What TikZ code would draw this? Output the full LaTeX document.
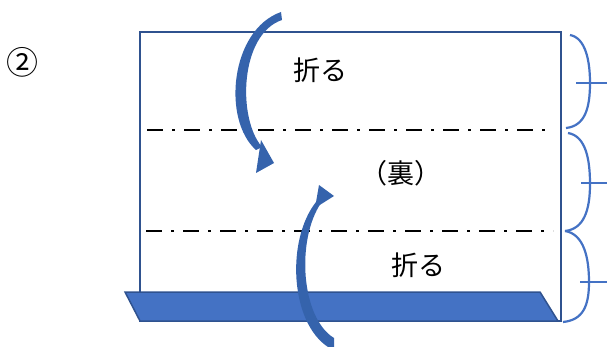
\documentclass[tikz,border=0pt]{standalone}
\usepackage{fontspec}
\setmainfont{Noto Sans CJK JP}
\usepackage{tikz}
\usetikzlibrary{positioning}
\definecolor{darkblue}{HTML}{2F528F}
\definecolor{midblue}{HTML}{4472C4}
\definecolor{arrowblue}{HTML}{3563AC}

\begin{document}
\begin{tikzpicture}[x=1pt, y=-1pt,
  label/.style={font=\fontsize{27}{27}\selectfont, inner sep=0pt},
  foldline/.style={line width=2.2pt, dash pattern=on 16pt off 9pt on 3pt off 9pt},
  brace/.style={midblue, line width=2.2pt},
  paper/.style={darkblue, line width=2pt}]
\useasboundingbox (0,0) rectangle (607,347);

% paper
\draw[paper] (140,32) rectangle (561,321);
\coordinate (fold1l) at (147,130);
\coordinate (fold1r) at (553,130);
\coordinate (fold2l) at (146,231);
\coordinate (fold2r) at (553,231);
\draw[foldline] (fold1l) -- (fold1r);
\draw[foldline] (fold2l) -- (fold2r);

% band at the bottom
\filldraw[fill=midblue, draw=darkblue, line width=1.5pt]
  (125,292) -- (540,292) -- (558,321) -- (140,321) -- cycle;

% texts
\node[label, font=\fontsize{32}{32}\selectfont] (step) at (22,62) {②};
\node[label] (top) at (320,70) {折る};
\node[label] (back) at (401,173) {（裏）};
\node[label] (bottom) at (418,265) {折る};

% upper arrow
\fill[arrowblue] (281,12) .. controls (230,30) and (222,120) .. (256,150)
  -- (262,147) .. controls (237,118) and (240,34) .. (282,20) -- cycle;
\fill[arrowblue] (261,140) -- (274,163) -- (256,173) -- cycle;

% lower arrow
\fill[arrowblue] (328,347) .. controls (290,322) and (286,240) .. (316,202)
  -- (321,203) .. controls (296,240) and (301,318) .. (334,338) -- (334,347) -- cycle;
\fill[arrowblue] (319,185) -- (334,196) -- (315,208) -- cycle;

% braces
\draw[brace] (570,35) .. controls (586,38) and (590,62) .. (590,83)
  .. controls (590,108) and (585,126) .. (566,128);
\draw[brace] (576,83) -- (607,83);
\draw[brace] (568,133) .. controls (586,136) and (590,160) .. (590,184)
  .. controls (590,210) and (584,229) .. (565,231);
\draw[brace] (581,183) -- (607,183);
\draw[brace] (565,231) .. controls (584,234) and (589,258) .. (589,282)
  .. controls (589,306) and (583,320) .. (563,322);
\draw[brace] (580,282) -- (607,282);
\end{tikzpicture}
\end{document}
